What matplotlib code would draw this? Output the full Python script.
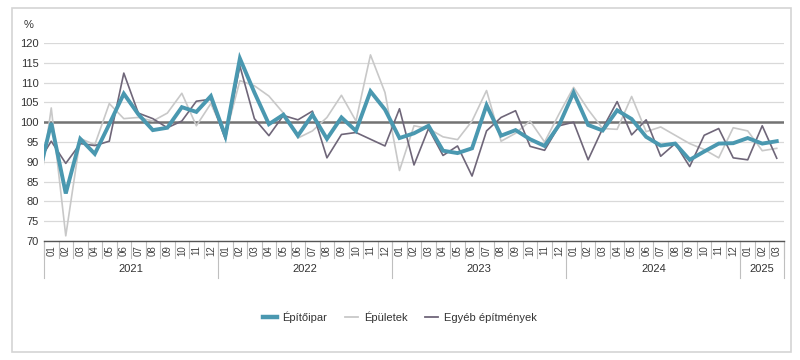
import numpy as np
import matplotlib
matplotlib.use("Agg")
import matplotlib.pyplot as plt
from matplotlib.lines import Line2D
from matplotlib.patches import Rectangle
import matplotlib.transforms as mtransforms

plt.rcParams['font.family'] = ['Liberation Sans', 'DejaVu Sans']

# months 2020-12 (partly visible at the left edge) .. 2025-03
years = ["2021", "2022", "2023", "2024", "2025"]
year_months = [12, 12, 12, 12, 3]
month_labels = [f"{m:02d}" for n in year_months for m in range(1, n + 1)]

epitoipar = [84.5,
             99.8, 82.0, 95.8, 92.0, 99.5, 107.2, 102.0, 98.0, 98.6, 103.8, 102.6, 106.6,
             96.5, 116.1, 107.5, 99.5, 101.9, 96.6, 101.9, 95.8, 101.2, 97.8, 107.8, 103.2,
             96.0, 97.2, 99.1, 92.8, 92.2, 93.4, 104.3, 96.6, 98.0, 95.7, 94.0, 99.3,
             107.5, 99.3, 97.9, 103.0, 100.8, 96.3, 94.1, 94.6, 90.5, 92.6, 94.6, 94.7,
             96.0, 94.6, 95.2]
epuletek = [77.5,
            103.6, 71.3, 95.9, 94.3, 104.7, 100.9, 101.2, 100.3, 102.3, 107.3, 99.1, 104.7,
            96.5, 110.5, 109.2, 106.6, 102.3, 96.0, 97.8, 101.2, 106.8, 100.3, 117.0, 107.5,
            87.8, 99.1, 98.4, 96.3, 95.6, 100.3, 108.0, 95.2, 97.2, 100.3, 95.0, 102.1,
            108.8, 103.2, 98.4, 98.2, 106.5, 97.6, 98.8, 96.7, 94.6, 93.1, 91.0, 98.6,
            97.8, 92.8, 93.4]
egyeb = [89.2,
         95.2, 89.6, 94.6, 94.1, 95.2, 112.4, 102.3, 100.9, 98.6, 100.3, 105.3, 105.8,
         95.7, 114.2, 100.9, 96.6, 101.7, 100.6, 102.8, 91.0, 96.9, 97.4, 95.7, 94.0,
         103.4, 89.2, 98.4, 91.6, 94.0, 86.4, 97.8, 101.2, 102.9, 93.9, 92.9, 99.1,
         100.0, 90.5, 98.4, 105.2, 96.8, 100.6, 91.4, 94.6, 88.8, 96.7, 98.4, 91.0,
         90.5, 99.1, 90.9]

series_names = ["Építőipar", "Épületek", "Egyéb építmények"]
c_teal = "#4a98b0"
c_light = "#c8c8c8"
c_dark = "#6f6679"

fig = plt.figure(figsize=(8, 3.6), dpi=100)
fig.patches.append(Rectangle((12/800, 8/360), (791-12)/800, (352-8)/360,
                             transform=fig.transFigure, fill=False,
                             edgecolor="#d4d4d4", linewidth=1.2))
ax = fig.add_axes([44/800, 1-241/360, (784-44)/800, (241-43)/360])

x = np.arange(-1, len(month_labels))
ax.plot(x, epuletek, color=c_light, lw=1.2, zorder=3)
ax.plot(x, egyeb, color=c_dark, lw=1.2, zorder=4)
ax.plot(x, epitoipar, color=c_teal, lw=2.8, zorder=5, solid_joinstyle='miter')

ax.set_xlim(-0.5, len(month_labels) - 0.5)
ax.set_ylim(70, 120)
ax.set_yticks(np.arange(70, 121, 5))
ax.yaxis.grid(True, color="#d9d9d9", lw=0.9)
ax.axhline(100, color="#737373", lw=1.8, zorder=2)
ax.set_axisbelow(True)
for s in ["top", "right", "left"]:
    ax.spines[s].set_visible(False)
ax.spines["bottom"].set_color("#555555")
ax.spines["bottom"].set_linewidth(1.0)
ax.tick_params(axis="y", length=0, labelsize=8, colors="#333333", pad=4)
ax.set_xticks(range(len(month_labels)))
ax.set_xticklabels(month_labels, rotation=90, fontsize=7, color="#444444")
ax.tick_params(axis="x", length=0, pad=3)

trans = mtransforms.blended_transform_factory(ax.transData, ax.transAxes)
h = 241 - 43
for i in range(len(month_labels) + 1):
    ax.plot([i - 0.5, i - 0.5], [0, -17/h], transform=trans, color="#bfbfbf",
            lw=0.8, clip_on=False)
start = 0
bounds = [-0.5]
for yname, n in zip(years, year_months):
    ax.text(start + (n - 1) / 2, -28/h, yname, transform=trans, ha="center",
            va="center", fontsize=8, color="#333333")
    start += n
    bounds.append(start - 0.5)
for b in bounds:
    ax.plot([b, b], [0, -37/h], transform=trans, color="#bfbfbf", lw=0.8,
            clip_on=False)

fig.text(24/800, 1-25/360, "%", fontsize=8, color="#333333", va="center")

handles = [Line2D([], [], color=c_teal, lw=3.2),
           Line2D([], [], color=c_light, lw=1.3),
           Line2D([], [], color=c_dark, lw=1.3)]
fig.legend(handles, series_names, loc="center", bbox_to_anchor=(0.5, 1-317/360),
           ncol=3, frameon=False, fontsize=8, handlelength=1.2, columnspacing=1.6,
           handletextpad=0.5, labelcolor="#333333")

fig.savefig("out.png", dpi=100)
